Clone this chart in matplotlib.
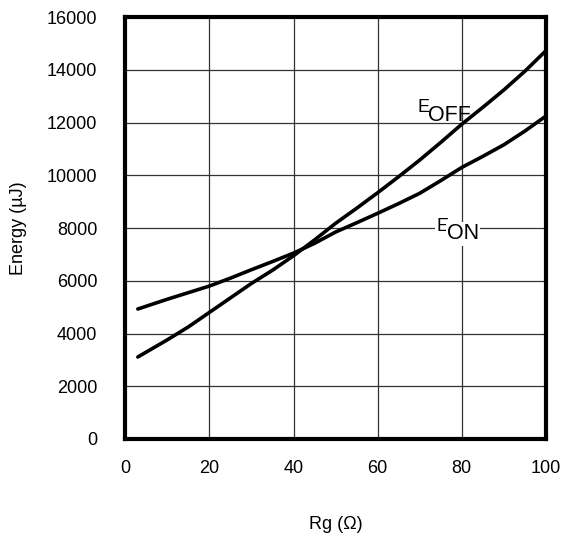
import matplotlib
matplotlib.use("Agg")
import matplotlib.pyplot as plt

plt.rcParams["font.family"] = ["Liberation Sans", "DejaVu Sans"]

# values
rg = [3, 10, 15, 20, 25, 30, 35, 40, 45, 50, 55, 60, 65, 70, 75, 80, 85, 90, 95, 100]
e_on = [4930, 5300, 5550, 5800, 6100, 6420, 6730, 7050, 7420, 7850,
        8200, 8560, 8930, 9320, 9800, 10300, 10720, 11160, 11680, 12250]
e_off = [3110, 3760, 4250, 4800, 5350, 5900, 6400, 6950, 7550, 8180,
         8750, 9340, 9950, 10580, 11250, 11940, 12580, 13240, 13950, 14730]

x_ticks = [0, 20, 40, 60, 80, 100]
y_ticks = list(range(0, 16001, 2000))

fig = plt.figure(figsize=(5.64, 5.36), dpi=100)
ax = fig.add_axes([0.222, 0.181, 0.746, 0.787])

ax.plot(rg, e_on, color="black", lw=2.6, solid_capstyle="round")
ax.plot(rg, e_off, color="black", lw=2.6, solid_capstyle="round")

ax.set_xlim(0, 100)
ax.set_ylim(0, 16000)
ax.set_xticks(x_ticks)
ax.set_yticks(y_ticks)
ax.tick_params(length=0, labelsize=13)
ax.tick_params(axis="y", pad=20)
ax.tick_params(axis="x", pad=15)
ax.grid(True, color="#333333", lw=0.9)
ax.set_axisbelow(True)
for sp in ax.spines.values():
    sp.set_linewidth(3)

ax.set_xlabel("Rg (\u03a9)", fontsize=13, labelpad=28)
ax.set_ylabel("Energy (\u00b5J)", fontsize=13, labelpad=14)

# curve labels: E with large offset subscript
def label(x, y, sub, bg=False):
    box = dict(facecolor="white", edgecolor="none", pad=1) if bg else None
    ax.text(x, y, "E", fontsize=13, ha="left", va="bottom", bbox=box)
    ax.annotate(sub, xy=(x, y), xytext=(7.5, -7), textcoords="offset points",
                fontsize=15.5, ha="left", va="bottom", bbox=box)

label(69.5, 12250, "OFF")
label(74, 7750, "ON", bg=True)

fig.savefig("out.png", dpi=100)
